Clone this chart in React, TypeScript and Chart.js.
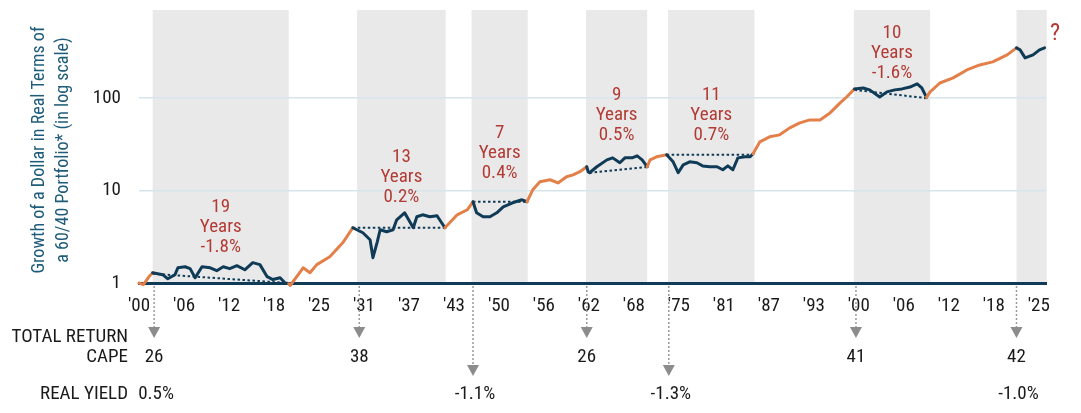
import React, { useEffect, useRef } from 'react';
import { Chart, registerables } from 'chart.js';

Chart.register(...registerables);

const FONT = "'Liberation Sans Narrow', 'Roboto Condensed', 'DejaVu Sans Condensed', sans-serif";
const ORANGE = '#e3804a';
const NAVY = '#0f3b57';
const RED = '#b33b35';
const GRAY_ARROW = '#8c8c8c';

// Growth of $1 (real, log scale) - year / value
const years = [
  1900, 1900.6, 1901.5, 1901.9, 1903.3, 1904.0, 1905.0, 1905.4, 1906.4, 1907.1, 1907.8, 1908.75,
  1909.9, 1910.8, 1911.7, 1912.6, 1913.6, 1914.7, 1915.8, 1916.8, 1917.8, 1918.6, 1919.6, 1920.3,
  1920.8, 1921.0, 1922.4, 1922.8, 1923.75, 1924.7, 1926.5, 1928.3, 1929.7, 1931.1, 1932.1, 1932.5,
  1933.1, 1933.5, 1934.4, 1935.3, 1935.8, 1936.9, 1938.1, 1938.6, 1939.4, 1940.4, 1941.4, 1942.5,
  1944.2, 1945.6, 1946.4, 1946.9, 1947.8, 1948.75, 1949.7, 1950.6, 1951.9, 1953.2, 1953.9, 1954.7,
  1955.7, 1957.1, 1958.2, 1959.4, 1960.3, 1961.25, 1962.2, 1962.4, 1962.6, 1963.6, 1965.0, 1965.8,
  1966.8, 1967.5, 1968.5, 1969.2, 1969.9, 1970.6, 1971.0, 1971.9, 1973.3, 1974.2, 1974.9, 1975.6,
  1976.5, 1977.5, 1978.3, 1979.3, 1980.3, 1981.1, 1981.8, 1982.5, 1983.2, 1984.2, 1984.9, 1985.3,
  1986.25, 1987.6, 1989.0, 1990.4, 1991.8, 1993.2, 1994.6, 1996.0, 1997.4, 1998.3, 1999.4, 2000.6,
  2001.5, 2002.9, 2003.9, 2005.0, 2006.0, 2007.1, 2008.1, 2008.75, 2009.4, 2009.9, 2011.25, 2013.1,
  2015.0, 2016.8, 2018.6, 2020.6, 2021.9, 2022.4, 2023.1, 2024.2, 2025.1, 2025.8,
];
const values = [
  1.0, 0.96, 1.2, 1.29, 1.23, 1.11, 1.23, 1.46, 1.5, 1.43, 1.14, 1.5,
  1.46, 1.36, 1.5, 1.43, 1.54, 1.39, 1.66, 1.58, 1.17, 1.09, 1.14, 1.0,
  0.98, 0.94, 1.32, 1.46, 1.29, 1.58, 1.92, 2.72, 3.96, 3.5, 2.94, 1.88,
  2.79, 3.77, 3.59, 3.77, 4.83, 5.75, 3.96, 5.21, 5.47, 5.21, 5.34, 3.96,
  5.47, 6.2, 7.57, 5.75, 5.21, 5.21, 5.75, 6.68, 7.38, 7.95, 7.57, 10.2,
  12.45, 13.1, 12.1, 14.1, 14.8, 16.0, 18.1, 16.0, 15.6, 18.1, 21.5, 22.6,
  20.0, 22.6, 22.6, 23.8, 21.5, 18.1, 21.5, 23.2, 24.4, 20.5, 15.6, 19.0,
  20.5, 20.0, 18.5, 18.1, 18.1, 16.8, 18.5, 16.8, 22.6, 23.2, 23.2, 25.0,
  33.7, 38.2, 40.1, 47.7, 54.1, 58.2, 58.2, 69.3, 88.9, 103, 126, 129,
  123, 103, 117, 123, 126, 132, 143, 129, 102, 117, 146, 166,
  202, 229, 247, 294, 350, 333, 273, 294, 333, 350,
];

// Drawdown periods (peak -> recovery) drawn in navy
const drawdownStart = [1901.9, 1929.7, 1946.4, 1962.2, 1973.3, 1999.4, 2021.9];
const drawdownEnd = [1920.8, 1942.5, 1953.9, 1970.6, 1985.3, 2009.4, 2026];

// Dotted reference lines (start value -> end value)
const dottedStartYear = [1901.9, 1929.7, 1946.4, 1962.6, 1973.3, 1999.4];
const dottedEndYear = [1920.6, 1942.5, 1953.9, 1970.6, 1985.3, 2009.4];
const dottedStartValue = [1.26, 3.96, 7.57, 15.6, 24.4, 123];
const dottedEndValue = [1.0, 3.96, 7.57, 18.0, 24.4, 100];

// Shaded bands
const shadeStart = [1901.9, 1930.3, 1946.2, 1962.1, 1973.5, 1999.3, 2021.9];
const shadeEnd = [1920.8, 1942.6, 1954.0, 1970.6, 1985.5, 2009.9, 2026.1];

// Band annotations
const bandYears = ['19', '13', '7', '9', '11', '10'];
const bandReturns = ['-1.8%', '0.2%', '0.4%', '0.5%', '0.7%', '-1.6%'];

// Bottom table
const capeYears = [1902.1, 1930.6, 1962.2, 1999.6, 2021.9];
const capeValues = ['26', '38', '26', '41', '42'];
const realYieldYears = [1902.1, 1946.4, 1973.6, 2021.9];
const realYieldValues = ['0.5%', '-1.1%', '-1.3%', '-1.0%'];
const realYieldArrowYears = [1946.4, 1973.6];

const yTicks = [1, 10, 100];
const xTicks = Array.from({ length: 21 }, (_, i) => 1900 + i * 6.25);

// layout constants (pixels)
const LABEL_TOP = [207, 157, 133, 95, 95, 33];

function drawArrow(ctx: CanvasRenderingContext2D, px: number, y0: number, yTri: number) {
  ctx.save();
  ctx.strokeStyle = '#9a9a9a';
  ctx.lineWidth = 1.5;
  ctx.setLineDash([2, 2]);
  ctx.beginPath();
  ctx.moveTo(px, y0);
  ctx.lineTo(px, yTri);
  ctx.stroke();
  ctx.setLineDash([]);
  ctx.fillStyle = GRAY_ARROW;
  ctx.beginPath();
  ctx.moveTo(px - 6, yTri);
  ctx.lineTo(px + 6, yTri);
  ctx.lineTo(px, yTri + 11);
  ctx.closePath();
  ctx.fill();
  ctx.restore();
}

const overlay = {
  id: 'overlay',
  beforeDraw(chart: any) {
    const { ctx, chartArea, scales } = chart;
    const x = scales.x;
    ctx.save();
    ctx.fillStyle = '#e9e9e9';
    shadeStart.forEach((s, i) => {
      const x0 = x.getPixelForValue(s);
      const x1 = x.getPixelForValue(shadeEnd[i]);
      ctx.fillRect(x0, chartArea.top, x1 - x0, chartArea.bottom - chartArea.top);
    });
    ctx.restore();
  },
  afterDraw(chart: any) {
    const { ctx, chartArea, scales } = chart;
    const x = scales.x;
    ctx.save();
    // band annotations
    ctx.font = `19px ${FONT}`;
    ctx.fillStyle = RED;
    ctx.textAlign = 'center';
    ctx.textBaseline = 'middle';
    bandYears.forEach((yr, i) => {
      const cx = (x.getPixelForValue(shadeStart[i]) + x.getPixelForValue(shadeEnd[i])) / 2;
      const top = LABEL_TOP[i];
      ctx.fillText(yr, cx, top);
      ctx.fillText('Years', cx, top + 20);
      ctx.fillText(bandReturns[i], cx, top + 40);
    });
    ctx.font = `24px ${FONT}`;
    ctx.fillText('?', x.getPixelForValue(2026) + 9, 34);

    // y-axis title
    ctx.fillStyle = '#1f5c7a';
    ctx.font = `18px ${FONT}`;
    const cy = 150;
    [['Growth of a Dollar in Real Terms of', 39], ['a 60/40 Portfolio* (in log scale)', 63]].forEach(([t, px]) => {
      ctx.save();
      ctx.translate(px as number, cy);
      ctx.rotate(-Math.PI / 2);
      ctx.fillText(t as string, 0, 0);
      ctx.restore();
    });

    // arrows
    const y0 = chartArea.bottom + 3;
    capeYears.forEach((yr) => drawArrow(ctx, x.getPixelForValue(yr), y0, 327));
    realYieldArrowYears.forEach((yr) => drawArrow(ctx, x.getPixelForValue(yr), y0, 365));

    // table text
    ctx.fillStyle = '#1a1a1a';
    ctx.font = `19px ${FONT}`;
    ctx.textAlign = 'right';
    ctx.fillText('TOTAL RETURN', 128, 337);
    ctx.fillText('CAPE', 128, 357);
    ctx.fillText('REAL YIELD', 128, 394);
    ctx.textAlign = 'center';
    capeYears.forEach((yr, i) => ctx.fillText(capeValues[i], x.getPixelForValue(yr), 357));
    realYieldYears.forEach((yr, i) => ctx.fillText(realYieldValues[i], x.getPixelForValue(yr) + 2, 394));
    ctx.restore();
  },
};

export default function App() {
  const ref = useRef<HTMLCanvasElement | null>(null);
  useEffect(() => {
    if (!ref.current) return;
    const inDD = (a: number, b: number) =>
      drawdownStart.some((s, i) => a >= s - 1e-6 && b <= drawdownEnd[i] + 1e-6);
    const datasets: any[] = [
      {
        data: years.map((yr, i) => ({ x: yr, y: values[i] })),
        borderColor: ORANGE,
        borderWidth: 3,
        pointRadius: 0,
        tension: 0,
        borderJoinStyle: 'round',
        borderCapStyle: 'round',
        clip: 6,
        segment: {
          borderColor: (c: any) => (inDD(c.p0.parsed.x, c.p1.parsed.x) ? NAVY : ORANGE),
        },
        order: 0,
      },
      ...dottedStartYear.map((s, i) => ({
        data: [
          { x: s, y: dottedStartValue[i] },
          { x: dottedEndYear[i], y: dottedEndValue[i] },
        ],
        borderColor: NAVY,
        borderWidth: 2,
        borderDash: [2.5, 2.5],
        pointRadius: 0,
        order: 1,
      })),
    ];
    const chart = new Chart(ref.current, {
      type: 'line',
      data: { datasets },
      plugins: [overlay],
      options: {
        animation: false,
        responsive: false,
        layout: { padding: { left: 0, right: 35, top: 10, bottom: 0 } },
        plugins: { legend: { display: false }, tooltip: { enabled: false } },
        scales: {
          x: {
            type: 'linear',
            min: 1900,
            max: 2026,
            afterFit: (s: any) => {
              s.height = 130;
              s.paddingLeft = 0;
              s.paddingRight = 0;
            },
            afterBuildTicks: (s: any) => {
              s.ticks = xTicks.map((v) => ({ value: v }));
            },
            grid: { display: false, drawTicks: false },
            border: { display: true, color: NAVY, width: 3 },
            ticks: {
              padding: 12,
              color: '#1a1a1a',
              font: { family: FONT, size: 19 },
              maxRotation: 0,
              autoSkip: false,
              callback: (v: any) => "'" + String(Math.floor(Number(v)) % 100).padStart(2, '0'),
            },
          },
          y: {
            type: 'logarithmic',
            min: 1,
            max: 900,
            afterFit: (s: any) => {
              s.width = 139;
              s.paddingTop = 0;
              s.paddingBottom = 0;
            },
            afterBuildTicks: (s: any) => {
              s.ticks = yTicks.map((v) => ({ value: v }));
            },
            grid: { color: '#d5e5ec', lineWidth: 1.5, drawTicks: false },
            border: { display: false },
            ticks: {
              padding: 18,
              color: '#1a1a1a',
              font: { family: FONT, size: 19 },
              callback: (v: any) => String(v),
            },
          },
        },
      },
    });
    return () => chart.destroy();
  }, []);
  return (
    <div style={{ position: 'fixed', left: 0, top: 0, width: 1081, height: 413, background: '#fff' }}>
      <canvas ref={ref} width={1081} height={413} />
    </div>
  );
}
